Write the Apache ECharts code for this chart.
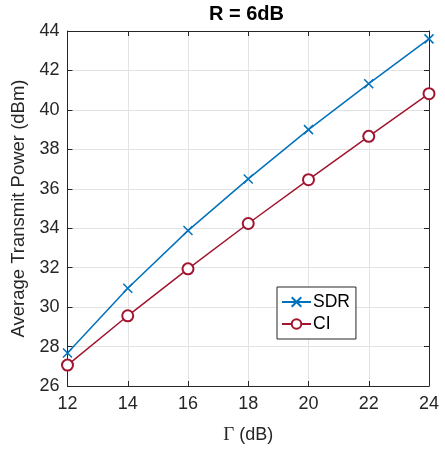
<!DOCTYPE html>
<html><head><meta charset="utf-8">
<script src="https://cdn.jsdelivr.net/npm/echarts@6/dist/echarts.min.js"></script>
<style>html,body{margin:0;padding:0;background:#fff}#c{width:445px;height:450px}</style>
</head><body><div id="c"></div>
<script>
const gammaDB = [12, 14, 16, 18, 20, 22, 24];
const sdr = [27.67, 30.96, 33.88, 36.5, 39.0, 41.33, 43.6];
const ci = [27.06, 29.56, 31.94, 34.24, 36.46, 38.66, 40.82];
const yTicks = [26, 28, 30, 32, 34, 36, 38, 40, 42, 44];
const xTicks = [12, 14, 16, 18, 20, 22, 24];

const font = 'Liberation Sans, Arial, Helvetica, sans-serif';
const axisCol = '#262626';
const crossPath = 'path://M0,0L10,10M10,0L0,10';
const chart = echarts.init(document.getElementById('c'), null, {renderer: 'canvas'});
const gridLine = {show: true, lineStyle: {color: '#e3e3e3', width: 1}};
const baseX = {
  type: 'value', min: xTicks[0], max: xTicks[xTicks.length - 1], interval: 2,
  axisLine: {show: true, onZero: false, lineStyle: {color: axisCol, width: 1}},
  axisTick: {show: true, inside: true, length: 5, lineStyle: {color: axisCol}},
};
const baseY = {
  type: 'value', min: yTicks[0], max: yTicks[yTicks.length - 1], interval: 2,
  axisLine: {show: true, onZero: false, lineStyle: {color: axisCol, width: 1}},
  axisTick: {show: true, inside: true, length: 5, lineStyle: {color: axisCol}},
};
chart.setOption({
  animation: false,
  title: {text: 'R = 6dB', left: 209, top: 4, padding: 0,
    textStyle: {fontFamily: font, fontSize: 20, fontWeight: 'bold', color: '#000'}},
  grid: {left: 67.5, right: 16, top: 31, bottom: 64},
  xAxis: [
    Object.assign({}, baseX, {position: 'bottom',
      name: '{g|Γ} (dB)', nameLocation: 'middle', nameGap: 40,
      nameTextStyle: {fontFamily: font, fontSize: 18, color: '#262626',
        rich: {g: {fontFamily: 'Liberation Serif, Times New Roman, serif', fontSize: 19, color: '#262626'}}},
      axisLabel: {fontFamily: font, fontSize: 18, color: '#262626', margin: 9},
      splitLine: gridLine}),
    Object.assign({}, baseX, {position: 'top', axisLabel: {show: false}, splitLine: {show: false}})
  ],
  yAxis: [
    Object.assign({}, baseY, {position: 'left',
      name: 'Average Transmit Power (dBm)', nameLocation: 'middle', nameGap: 36,
      nameTextStyle: {fontFamily: font, fontSize: 18.5, color: '#262626'},
      axisLabel: {fontFamily: font, fontSize: 18, color: '#262626', margin: 8},
      splitLine: gridLine}),
    Object.assign({}, baseY, {position: 'right', axisLabel: {show: false}, splitLine: {show: false}})
  ],
  legend: {
    orient: 'vertical', left: 277, top: 287,
    backgroundColor: '#fff', borderColor: axisCol, borderWidth: 1,
    padding: [6, 6, 6, 4], itemGap: 4, itemWidth: 29, itemHeight: 12,
    textStyle: {fontFamily: font, fontSize: 17.5, color: '#000', padding: [0, 0, 0, -3]},
    data: ['SDR', 'CI']
  },
  series: [
    {name: 'SDR', type: 'line', data: gammaDB.map((g, i) => [g, sdr[i]]),
      color: '#0072BD', lineStyle: {width: 1.5, color: '#0072BD'},
      symbol: crossPath, symbolSize: 9,
      itemStyle: {color: 'none', borderColor: '#0072BD', borderWidth: 1.5}},
    {name: 'CI', type: 'line', data: gammaDB.map((g, i) => [g, ci[i]]),
      color: '#A2142F', lineStyle: {width: 1.5, color: '#A2142F'},
      symbol: 'emptyCircle', symbolSize: 11,
      itemStyle: {color: '#A2142F', borderColor: '#A2142F', borderWidth: 1.5}}
  ]
});
</script></body></html>
